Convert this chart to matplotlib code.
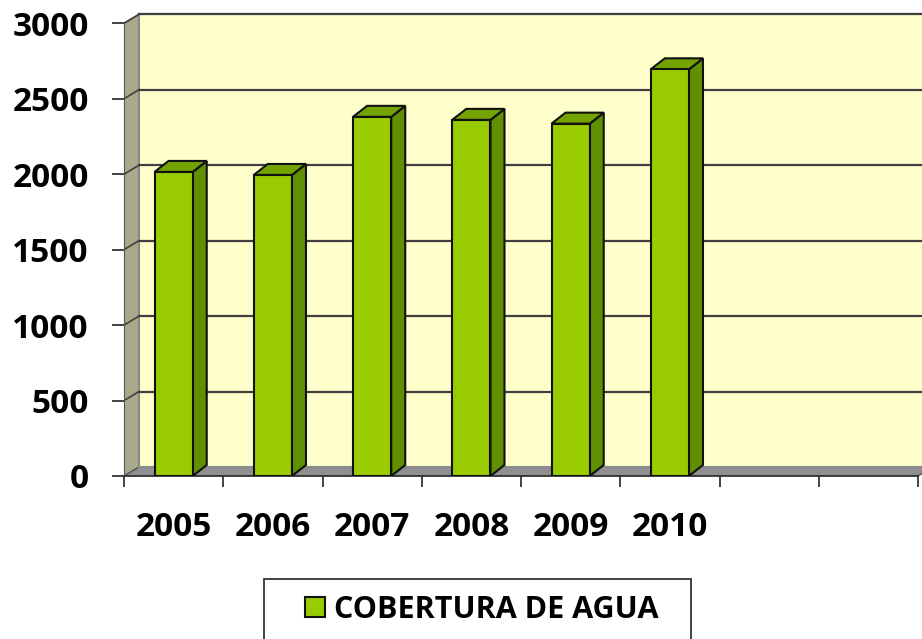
import matplotlib
matplotlib.use('Agg')
import matplotlib.pyplot as plt
from matplotlib.patches import Polygon, Rectangle, Patch

# datos
years = ['2005', '2006', '2007', '2008', '2009', '2010']
cobertura = [2015, 1995, 2380, 2360, 2335, 2695]
n_slots = 8
y_ticks = [0, 500, 1000, 1500, 2000, 2500, 3000]
legend_label = 'COBERTURA DE AGUA'

plt.rcParams['font.family'] = ['Open Sans', 'DejaVu Sans']
plt.rcParams['font.weight'] = 'bold'

W, H = 922, 639
fig = plt.figure(figsize=(W / 100, H / 100), dpi=100)

# escala en pixeles
px_x = 99.25           # px por categoria
px_y = 452.7 / 3000.0  # px por unidad
left_px, zero_px = 124, 476

ax = fig.add_axes([left_px / W, (H - zero_px) / H, (W - left_px) / W, zero_px / H])
ax.set_xlim(0, (W - left_px) / px_x)
ax.set_ylim(0, zero_px / px_y)
ax.patch.set_visible(False)

# profundidad del "3D"
dx = 15 / px_x
dy = 9 / px_y
ymax = y_ticks[-1]
xend = n_slots

# pared lateral, piso y pared del fondo
ax.add_patch(Polygon([(0, 0), (dx, dy), (dx, ymax + dy), (0, ymax)],
                     closed=True, facecolor='#A9A98B', edgecolor='#7a7a6a', lw=1, zorder=1))
ax.add_patch(Polygon([(0, 0), (xend, 0), (xend + dx, dy), (dx, dy)],
                     closed=True, facecolor='#8F8F8F', edgecolor='#555555', lw=1, zorder=1))
ax.add_patch(Rectangle((dx, dy), xend, ymax, facecolor='#FFFFCC',
                       edgecolor='#8a8a8a', lw=1.5, zorder=1))

# lineas de cuadricula
for v in y_ticks[1:]:
    ax.plot([dx, xend + dx], [v + dy, v + dy], color='#404040', lw=1.6, zorder=2)
    ax.plot([0, dx], [v, v + dy], color='#404040', lw=1.2, zorder=2)

# barras
bw = 0.385
bdx = 14 / px_x
bdy = 11 / px_y
xs = [i + 0.5 for i in range(len(years))]
ax.bar(xs, cobertura, width=bw, color='#99CC00', edgecolor='#111111', lw=1.5, zorder=4)
for x, v in zip(xs, cobertura):
    xl, xr = x - bw / 2, x + bw / 2
    ax.add_patch(Polygon([(xr, 0), (xr + bdx, bdy), (xr + bdx, v + bdy), (xr, v)],
                         closed=True, facecolor='#608F00', edgecolor='#111111', lw=1.5, zorder=3))
    ax.add_patch(Polygon([(xl, v), (xl + bdx, v + bdy), (xr + bdx, v + bdy), (xr, v)],
                         closed=True, facecolor='#74A300', edgecolor='#111111', lw=1.5, zorder=3))

# ejes
for s in ['top', 'right']:
    ax.spines[s].set_visible(False)
ax.spines['left'].set_bounds(0, ymax)
ax.spines['left'].set_color('#555555')
ax.spines['bottom'].set_bounds(0, xend)
ax.spines['bottom'].set_color('#333333')
ax.spines['bottom'].set_linewidth(1.3)

ax.set_yticks(y_ticks)
ax.set_yticklabels([str(t) for t in y_ticks], fontsize=24, fontweight='bold')
ax.tick_params(axis='y', direction='out', length=8.5, width=1.2, pad=17, color='#222222')

ax.set_xticks(range(n_slots + 1))
ax.set_xticklabels([])
ax.tick_params(axis='x', which='major', direction='out', length=8, width=1.2, color='#222222')
ax.set_xticks(xs, minor=True)
ax.set_xticklabels(years, minor=True, fontsize=24, fontweight='bold')
ax.tick_params(axis='x', which='minor', length=0, pad=25)

# leyenda
fig.patches.append(Rectangle((264 / W, -0.05), (691 - 264) / W, 0.05 + (H - 579) / H,
                             transform=fig.transFigure, facecolor='white',
                             edgecolor='#222222', lw=1.2, figure=fig))
handle = Patch(facecolor='#99CC00', edgecolor='#111111', lw=1.5)
fig.legend([handle], [legend_label], loc='center', bbox_to_anchor=(482 / W, 1 - 610 / H),
           frameon=False, prop={'size': 22, 'weight': 'bold'},
           handlelength=0.65, handleheight=0.65, handletextpad=0.3)

fig.savefig('out.png', dpi=100)
